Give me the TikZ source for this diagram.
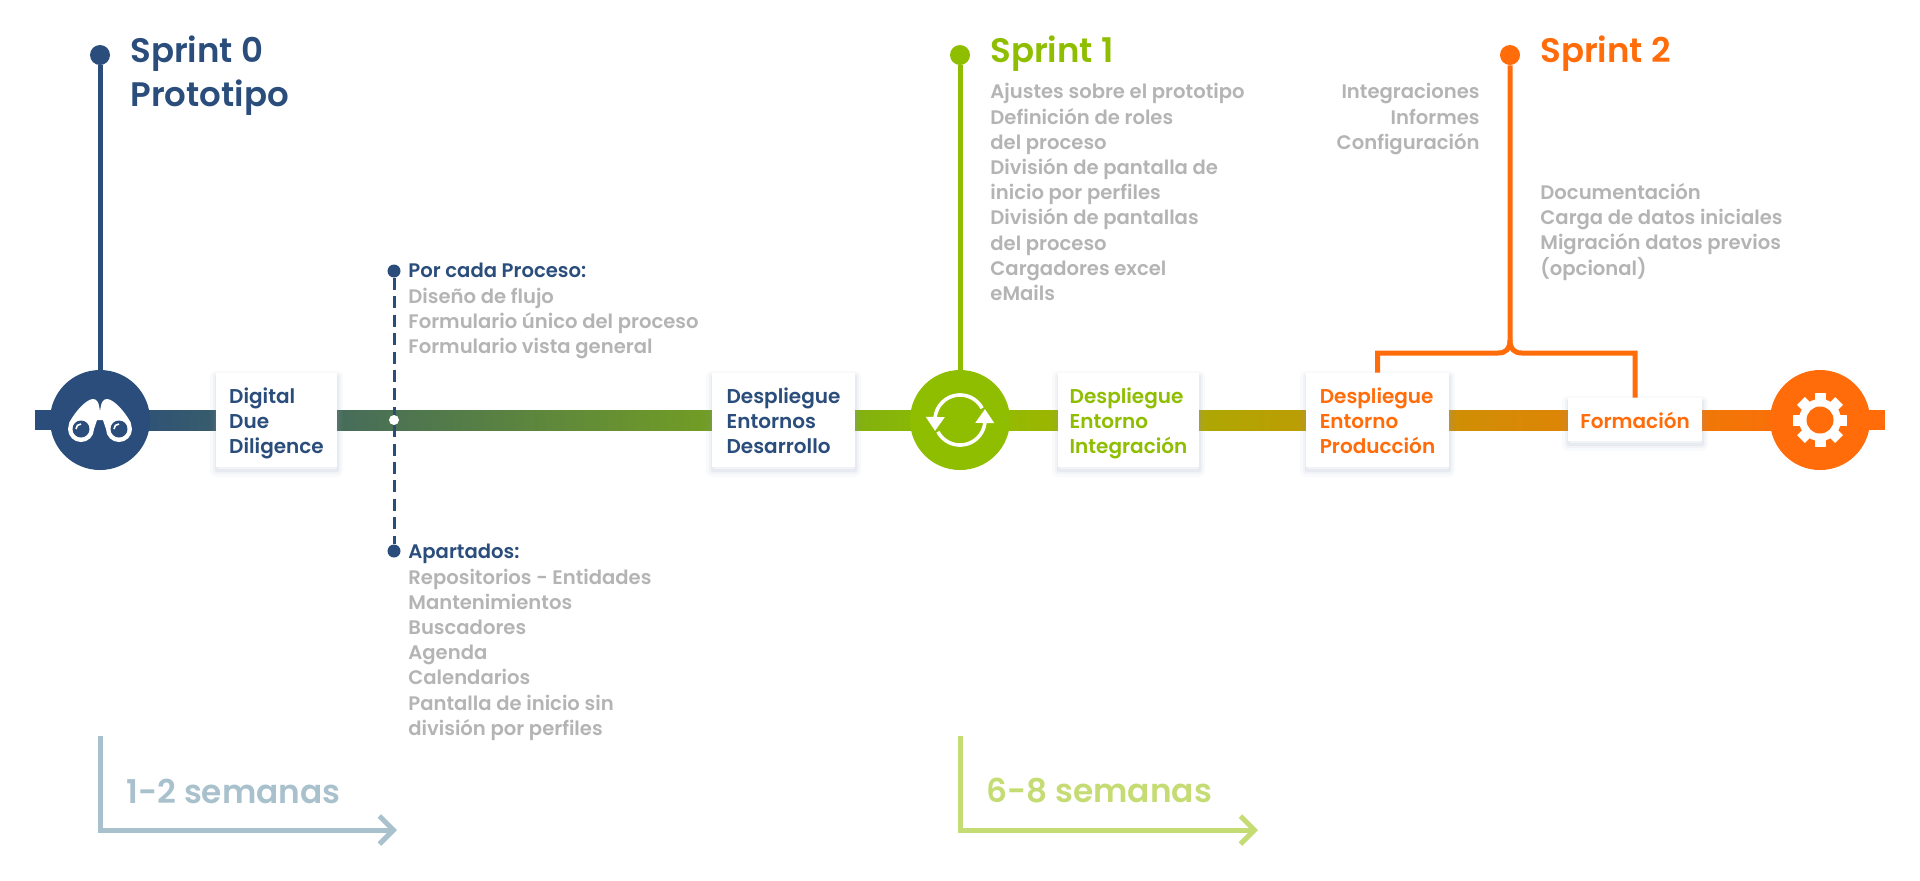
\documentclass[tikz,border=0pt]{standalone}
\usepackage{fontspec}
\setmainfont{Poppins}[UprightFont=* Medium, BoldFont=* SemiBold]
\usepackage{tikz}
\usetikzlibrary{arrows.meta,calc}

\definecolor{navyc}{HTML}{2A4D7C}
\definecolor{greenc}{HTML}{8FBE00}
\definecolor{orangec}{HTML}{FF6C09}
\definecolor{grayc}{HTML}{B4B4B4}
\definecolor{paleblue}{HTML}{A9C1CC}
\definecolor{palegreen}{HTML}{C5DC75}
\definecolor{shadowc}{HTML}{8E9BBA}

\newcommand{\boxtop}{\rule{0pt}{12.3pt}}

\tikzset{
  stagecirc/.style={circle, minimum size=50pt, inner sep=0pt},
  enddot/.style={circle, minimum size=10pt, inner sep=0pt},
  smalldot/.style={circle, minimum size=6.5pt, inner sep=0pt, fill=navyc},
  sprintline/.style={line width=2.5pt},
  softglow/.style 2 args={preaction={draw=shadowc, draw opacity=#1, line width=#2, line join=round, transform canvas={yshift=-1.8pt}}},
  boxnode/.style={fill=white, inner sep=0pt, align=left, minimum height=47pt,
    font=\fontsize{10}{12.7}\selectfont\bfseries,
    softglow={.05}{6pt}, softglow={.07}{3.5pt}, softglow={.1}{1.5pt}},
  listtext/.style={anchor=north west, inner sep=0pt, align=left, text=grayc,
    execute at begin node=\strut,
    font=\fontsize{9.8}{12.6}\selectfont\bfseries},
  listhead/.style={anchor=base west, inner sep=0pt, text=navyc,
    font=\fontsize{9.8}{12.6}\selectfont\bfseries},
  sprinttext/.style={anchor=north west, inner sep=0pt, align=left,
    font=\fontsize{17}{22}\selectfont\bfseries},
  weektext/.style={anchor=west, inner sep=0pt, font=\fontsize{16.4}{22}\selectfont\bfseries},
  weekline/.style={line width=2.5pt, -{Straight Barb[length=7pt, width=14pt, line width=2.5pt]}},
  reloadline/.style={white, line width=1.8pt, -{Triangle[length=7pt, width=9pt]}},
}

\begin{document}
\begin{tikzpicture}[x=0.5pt, y=-0.5pt]
    \useasboundingbox (0,0) rectangle (1920,880);

    % Main bar
    \fill[navyc] (35,410) rectangle (100,430);
    \shade[left color=navyc, right color=greenc] (100,410) rectangle (960,430);
    \shade[left color=greenc, right color=orangec] (960,410) rectangle (1820,430);
    \fill[orangec] (1820,410) rectangle (1885,430);

    % Sprint lines
    \node[enddot, fill=navyc] (dotA) at (100,55) {};
    \node[enddot, fill=greenc] (dotB) at (960,55) {};
    \node[enddot, fill=orangec] (dotC) at (1510,55) {};
    \node[stagecirc, fill=navyc] (circA) at (100,420) {};
    \node[stagecirc, fill=greenc] (circB) at (960,420) {};
    \node[stagecirc, fill=orangec] (circC) at (1820,420) {};
    \draw[sprintline, navyc] (dotA) -- (circA);
    \draw[sprintline, greenc] (dotB) -- (circB);

    % Dashed line
    \node[smalldot] (dotP) at (394,271) {};
    \node[smalldot] (dotR) at (394,551) {};
    \draw[navyc, line width=1.5pt, dash pattern=on 6pt off 3.2pt] (dotP) -- (dotR);
    \node[circle, fill=white, minimum size=5pt, inner sep=0pt] (dotM) at (394,420) {};

    % Boxes
    \node[boxnode, text=navyc, minimum width=60.5pt] (digitalbox) at (276.5,420) {\boxtop Digital\\Due\\Diligence\strut};
    \node[boxnode, text=navyc, minimum width=71.5pt] (desarbox) at (783.5,420) {\boxtop Despliegue\\Entornos\\Desarrollo\strut};
    \node[boxnode, text=greenc, minimum width=70.5pt] (integbox) at (1128.5,420) {\boxtop Despliegue\\Entorno\\Integración\strut};
    \node[boxnode, text=orangec, minimum width=71.5pt] (prodbox) at (1377.5,420) {\boxtop Despliegue\\Entorno\\Producción\strut};
    \node[boxnode, text=orangec, minimum width=67pt, minimum height=21.5pt] (formbox) at (1635,419.5) {\boxtop Formación\strut};

    % Bracket
    \coordinate (curlT) at (1510,340);
    \coordinate (curlL) at (1498,353);
    \coordinate (curlR) at (1522,353);
    \draw[sprintline, orangec] (dotC) -- (curlT) .. controls (1510,349) and (1506,353) .. (curlL) -- (curlL -| prodbox.north) -- (prodbox.north);
    \draw[sprintline, orangec] (curlT) .. controls (1510,349) and (1514,353) .. (curlR) -- (curlR -| formbox.north) -- (formbox.north);

    % Binoculars
    \begin{scope}[shift={(circA.center)}]
      \foreach \s in {1,-1} {
        \fill[white] (0,-8) .. controls (\s*1,-18) and (\s*3,-21) .. (\s*7,-21)
          .. controls (\s*13,-21) and (\s*24,-10) .. (\s*31,3) -- (\s*19,9) -- (\s*6,9) -- (\s*3,0) -- (0,0) -- cycle;
        \fill[white] (\s*19,9) circle (13);
        \fill[navyc] (\s*19,9) circle (8.5);
      }
      \draw[white, line width=0.8pt] (-24,9) .. controls (-24,6) and (-22,4) .. (-19,4);
      \draw[white, line width=0.8pt] (14,9) .. controls (14,6) and (16,4) .. (19,4);
    \end{scope}

    % Reload icon
    \begin{scope}[shift={(circB.center)}]
      \draw[reloadline] plot[domain=28:172, samples=30] ({25*cos(\x)}, {-25*sin(\x)}) -- (-25,11);
      \draw[reloadline] plot[domain=208:352, samples=30] ({25*cos(\x)}, {-25*sin(\x)}) -- (25,-11);
    \end{scope}

    % Gear
    \begin{scope}[shift={(circC.center)}]
      \foreach \a in {0,45,...,315}
        \fill[white, rotate=\a] (-5.5,-27) rectangle (5.5,0);
      \fill[white] (0,0) circle (21);
      \fill[orangec] (0,0) circle (13.5);
    \end{scope}

    % Sprint texts
    \node[sprinttext, text=navyc] (titleA) at (130,35) {Sprint 0\\Prototipo};
    \node[sprinttext, text=greenc] (titleB) at (990,35) {Sprint 1};
    \node[sprinttext, text=orangec] (titleC) at (1540,35) {Sprint 2};

    % Lists
    \node[listhead] (headP) at (408,277.5) {Por cada Proceso:};
    \node[listtext] (listP) at (408,287.3) {Diseño de flujo\\Formulario único del proceso\\Formulario vista general};
    \node[listhead] (headR) at (408,558) {Apartados:};
    \node[listtext] (listR) at (408,568.3) {Repositorios - Entidades\\Mantenimientos\\Buscadores\\Agenda\\Calendarios\\Pantalla de inicio sin\\división por perfiles};
    \node[listtext] (listB) at (990,83.1) {Ajustes sobre el prototipo\\Definición de roles\\del proceso\\División de pantalla de\\inicio por perfiles\\División de pantallas\\del proceso\\Cargadores excel\\eMails};
    \node[listtext, anchor=north east, align=right] (listC) at (1480,83.1) {Integraciones\\Informes\\Configuración};
    \node[listtext] (listD) at (1540,183.1) {Documentación\\Carga de datos iniciales\\Migración datos previos\\(opcional)};

    % Duration arrows
    \coordinate (weekAt) at (100,736);
    \coordinate (weekAc) at (100,830);
    \coordinate (weekAe) at (397,830);
    \coordinate (weekBt) at (960,736);
    \coordinate (weekBc) at (960,830);
    \coordinate (weekBe) at (1258,830);
    \draw[weekline, paleblue] (weekAt) -- (weekAc) -- (weekAe);
    \draw[weekline, palegreen] (weekBt) -- (weekBc) -- (weekBe);
    \node[weektext, text=paleblue] (weekA) at (126,791) {1-2 semanas};
    \node[weektext, text=palegreen] (weekB) at (986,791) {6-8 semanas};
\end{tikzpicture}
\end{document}
